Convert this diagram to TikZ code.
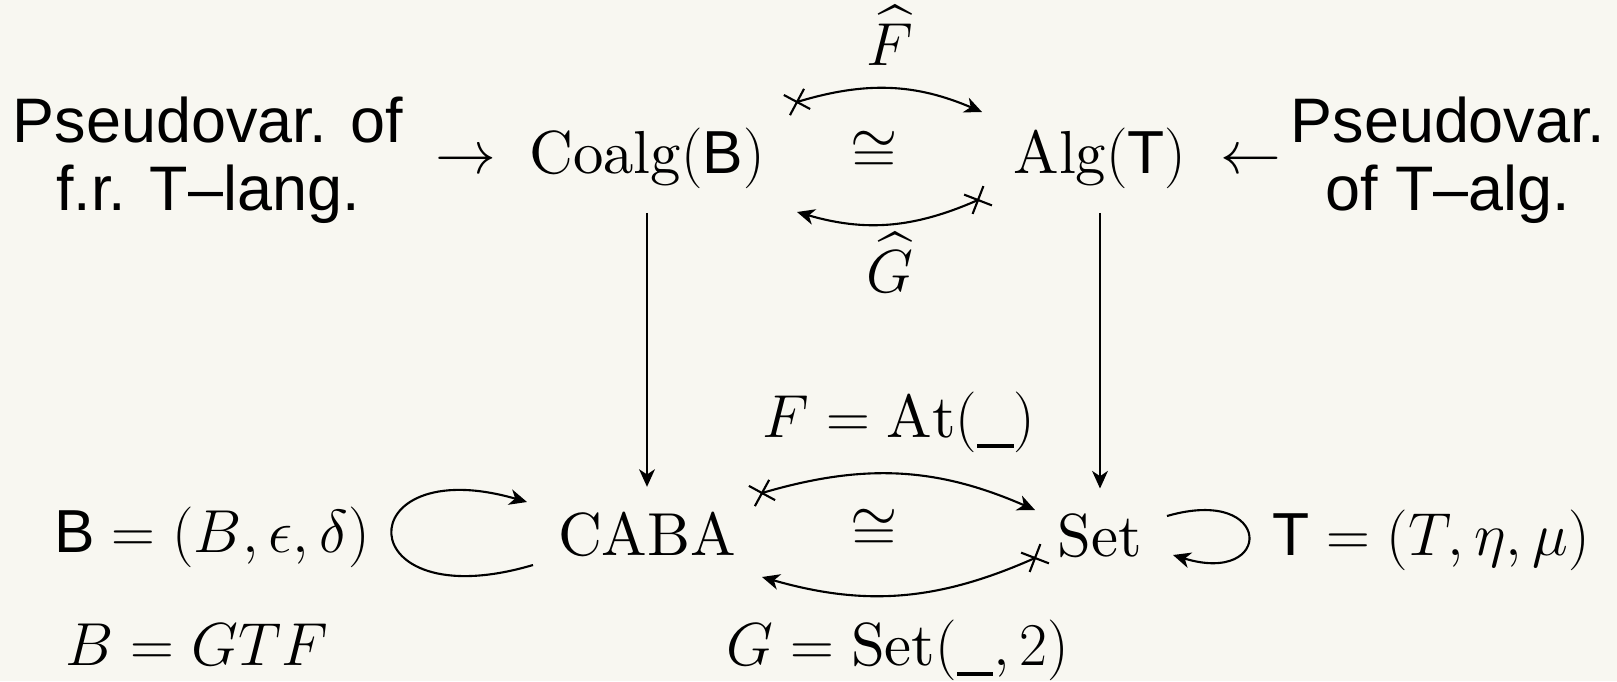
\documentclass[tikz,border=0pt]{standalone}
\usepackage{amsmath}
\usepackage{fontspec}
\setmainfont{lmroman10-regular.otf}[ItalicFont=lmroman10-italic.otf, BoldFont=lmroman10-bold.otf]
\setsansfont{Liberation Sans}
\usetikzlibrary{arrows.meta, decorations.markings}
\definecolor{fondo}{HTML}{F8F7F1}
\newcommand{\argslot}{\rule[-3pt]{0.6em}{0.9pt}}

\begin{document}
\begin{tikzpicture}[>={Stealth[length=5pt, width=4.5pt, inset=1.5pt]},
            category/.style={inner sep=0pt, inner ysep=0.24cm, anchor=base, font=\fontsize{17.28}{19.5}\selectfont},
            textlabel/.style={inner sep=0pt, anchor=base, font=\fontsize{17.28}{19.5}\selectfont},
            sidetext/.style={inner sep=0pt, align=center, font=\fontsize{17.9}{19.5}\selectfont\sffamily},
            functor/.style={->, line width=0.6pt},
            isoarrow/.style={->, line width=0.6pt, postaction={decorate},
                decoration={markings, mark=at position 0pt with {\draw[-, line width=0.6pt] (-3pt,-3pt) -- (3pt,3pt) (-3pt,3pt) -- (3pt,-3pt);}}},
            loopback/.style={->, line width=0.6pt}
        ]
            % Fondo
            \fill[fondo] (0,0) rectangle (16.17,-6.81);
            \useasboundingbox (0,0) rectangle (16.17,-6.81);

            % Fila de arriba
            \node[sidetext] (pseudo_lang) at (2.08,-1.60) {Pseudovar. of\\f.r. T–lang.};
            \node[textlabel] (to_coalg) at (4.66,-1.73) {$\to$};
            \node[category] (coalg) at (6.47,-1.73) {$\mathrm{Coalg}(\mathsf{B})$};
            \node[category] (alg) at (11.00,-1.73) {$\mathrm{Alg}(\mathsf{T})$};
            \node[textlabel] (to_alg) at (12.51,-1.73) {$\leftarrow$};
            \node[sidetext] (pseudo_alg) at (14.48,-1.60) {Pseudovar.\\of T–alg.};

            % Funtores levantados
            \node[textlabel] (fhat) at (8.90,-0.65) {$\widehat{F}$};
            \node[textlabel] (iso_top) at (8.74,-1.72) {$\cong$};
            \node[textlabel] (ghat) at (8.90,-2.92) {$\widehat{G}$};

            % Fila de abajo
            \node[textlabel] (monad_b) at (2.12,-5.52) {$\mathsf{B} = (B,\epsilon,\delta)$};
            \node[category] (caba) at (6.47,-5.55) {$\mathrm{CABA}$};
            \node[category] (set) at (11.00,-5.56) {$\mathrm{Set}$};
            \node[textlabel] (monad_t) at (14.31,-5.55) {$\mathsf{T} = (T,\eta,\mu)$};
            \node[textlabel] (b_gtf) at (1.97,-6.65) {$B = GTF$};

            % Dualidad
            \node[textlabel] (f_at) at (8.99,-4.37) {$F = \mathrm{At}(\argslot)$};
            \node[textlabel] (iso_bot) at (8.74,-5.50) {$\cong$};
            \node[textlabel] (g_set) at (8.98,-6.65) {$G = \mathrm{Set}(\argslot,2)$};

            % Flechas verticales
            \draw[functor] (coalg) -- (caba);
            \draw[functor] (alg) -- (set);

            % Isomorfismo de arriba
            \draw[isoarrow] ([shift={(1.50,0.71)}]coalg.base) to[bend left=20] ([shift={(-1.18,0.61)}]alg.base);
            \draw[isoarrow] ([shift={(-1.22,-0.27)}]alg.base) to[bend left=20] ([shift={(1.50,-0.39)}]coalg.base);

            % Isomorfismo de abajo
            \draw[isoarrow] ([shift={(1.15,0.62)}]caba.base) to[bend left=20] ([shift={(-0.65,0.46)}]set.base);
            \draw[isoarrow] ([shift={(-0.65,-0.02)}]set.base) to[bend left=20] ([shift={(1.15,-0.22)}]caba.base);

            % Lazos de las monadas
            \draw[loopback] ([shift={(-1.14,-0.10)}]caba.base) .. controls +(-1.86,-0.55) and +(-1.80,0.52) .. ([shift={(-1.20,0.53)}]caba.base);
            \draw[loopback] ([shift={(0.67,0.40)}]set.base) .. controls +(1.07,0.31) and +(1.01,-0.31) .. ([shift={(0.73,0.01)}]set.base);

        \end{tikzpicture}
\end{document}
